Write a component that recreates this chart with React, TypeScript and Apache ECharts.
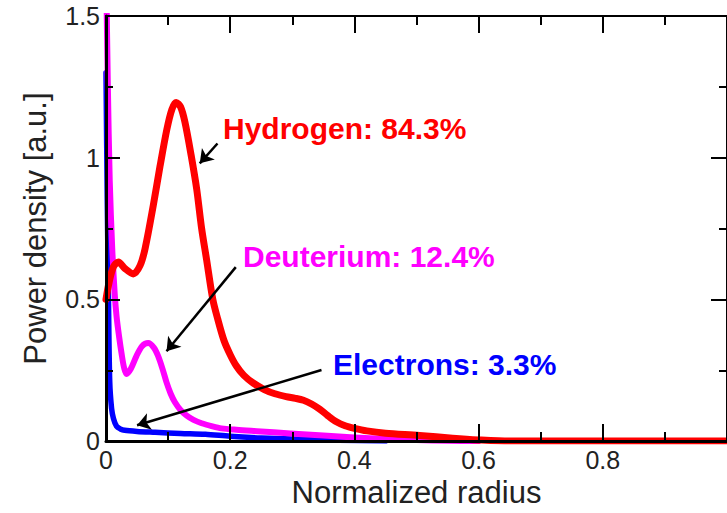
import React, { useEffect, useRef } from "react";
import * as echarts from "echarts";

// Normalized radius vs power density [a.u.]
const hydrogen: [number, number][] = [
  [0, 0.5], [0.005, 0.56], [0.012, 0.615], [0.02, 0.632], [0.03, 0.61], [0.044, 0.59],
  [0.055, 0.62], [0.063, 0.68], [0.076, 0.83], [0.087, 0.97], [0.098, 1.1], [0.106, 1.17],
  [0.113, 1.195], [0.12, 1.18], [0.127, 1.127], [0.137, 1.01], [0.146, 0.89], [0.154, 0.75],
  [0.162, 0.64], [0.172, 0.5], [0.18, 0.43], [0.19, 0.355], [0.2, 0.305], [0.21, 0.265],
  [0.222, 0.232], [0.237, 0.205], [0.255, 0.182], [0.272, 0.167], [0.29, 0.157], [0.305, 0.151],
  [0.318, 0.144], [0.331, 0.131], [0.344, 0.113], [0.357, 0.09], [0.371, 0.068], [0.385, 0.054],
  [0.4, 0.045], [0.42, 0.036], [0.45, 0.028], [0.505, 0.02], [0.558, 0.01], [0.6, 0.004],
  [0.65, 0], [0.8, 0], [1.0, 0],
];

const deuterium: [number, number][] = [
  [0, 1.7], [0.003, 1.25], [0.006, 0.92], [0.01, 0.68], [0.014, 0.52], [0.017, 0.44],
  [0.021, 0.37], [0.025, 0.31], [0.029, 0.26], [0.033, 0.237], [0.04, 0.255], [0.049, 0.3],
  [0.058, 0.335], [0.068, 0.346], [0.077, 0.33], [0.084, 0.3], [0.091, 0.255], [0.0975, 0.207],
  [0.104, 0.168], [0.111, 0.137], [0.12, 0.11], [0.13, 0.09], [0.141, 0.075], [0.154, 0.063],
  [0.17, 0.053], [0.186, 0.045], [0.21, 0.04], [0.243, 0.035], [0.297, 0.027], [0.35, 0.02],
  [0.4, 0.013], [0.45, 0.008], [0.5, 0.004], [0.55, 0.001], [0.6, 0],
];

const electrons: [number, number][] = [
  [0, 1.3], [0.002, 0.85], [0.004, 0.5], [0.006, 0.21], [0.009, 0.115], [0.012, 0.08],
  [0.017, 0.052], [0.023, 0.043], [0.03, 0.038], [0.05, 0.034], [0.079, 0.031], [0.12, 0.027],
  [0.16, 0.024], [0.2, 0.017], [0.25, 0.011], [0.3, 0.007], [0.35, 0.004], [0.4, 0.002],
  [0.45, 0],
];

const seriesNames = ["Electrons", "Deuterium", "Hydrogen"];
const annotationTexts = ["Hydrogen: 84.3%", "Deuterium: 12.4%", "Electrons: 3.3%"];

// arrows: [start, tip] in data coordinates
const arrows: [[number, number], [number, number]][] = [
  [[0.1795, 1.05], [0.151, 0.98]],
  [[0.209, 0.614], [0.0975, 0.317]],
  [[0.347, 0.251], [0.05, 0.056]],
];

const FONT = "'Liberation Sans', Arial, Helvetica, sans-serif";

export default function App() {
  const ref = useRef<HTMLDivElement>(null);
  useEffect(() => {
    if (!ref.current) return;
    const chart = echarts.init(ref.current, undefined, { renderer: "svg" });
    const tickStyle = { color: "#000", width: 2 };
    chart.setOption({
      animation: false,
      backgroundColor: "#fff",
      grid: { left: 106, top: 16, right: -1, bottom: 67, containLabel: false },
      xAxis: [
        {
          type: "value",
          position: "bottom",
          min: 0,
          max: 1,
          interval: 0.2,
          z: 10,
          axisLine: { show: true, onZero: false, lineStyle: { color: "#000", width: 3 } },
          axisTick: { show: true, inside: true, length: 17, lineStyle: tickStyle },
          minorTick: { show: true, splitNumber: 2, length: 9, lineStyle: tickStyle },
          splitLine: { show: false },
          axisLabel: {
            fontSize: 25,
            color: "#222",
            margin: 6,
            fontFamily: FONT,
            showMaxLabel: false,
          },
          name: "Normalized radius",
          nameLocation: "middle",
          nameGap: 28,
          nameTextStyle: { fontSize: 31, color: "#222", fontFamily: FONT },
        },
        {
          type: "value",
          position: "top",
          min: 0,
          max: 1,
          interval: 0.2,
          z: 10,
          axisLine: { show: true, onZero: false, lineStyle: { color: "#000", width: 2 } },
          axisTick: { show: true, inside: true, length: 17, lineStyle: tickStyle },
          minorTick: { show: true, splitNumber: 2, length: 9, lineStyle: tickStyle },
          splitLine: { show: false },
          axisLabel: { show: false },
        },
      ],
      yAxis: [
        {
          type: "value",
          position: "left",
          min: 0,
          max: 1.5,
          interval: 0.5,
          z: 10,
          axisLine: { show: true, onZero: false, lineStyle: { color: "#000", width: 3 } },
          axisTick: { show: true, inside: true, length: 14, lineStyle: tickStyle },
          minorTick: { show: true, splitNumber: 2, length: 7, lineStyle: tickStyle },
          splitLine: { show: false },
          axisLabel: { fontSize: 25, color: "#222", margin: 6, fontFamily: FONT },
          name: "Power density [a.u.]",
          nameLocation: "middle",
          nameGap: 55,
          nameTextStyle: { fontSize: 31, color: "#222", fontFamily: FONT },
        },
        {
          type: "value",
          position: "right",
          min: 0,
          max: 1.5,
          interval: 0.5,
          z: 10,
          axisLine: { show: true, onZero: false, lineStyle: { color: "#000", width: 2 } },
          axisTick: { show: true, inside: true, length: 16, lineStyle: tickStyle },
          minorTick: { show: true, splitNumber: 2, length: 8, lineStyle: tickStyle },
          splitLine: { show: false },
          axisLabel: { show: false },
        },
      ],
      series: [
        {
          name: seriesNames[0],
          type: "line",
          data: electrons,
          showSymbol: false,
          smooth: 0.3,
          lineStyle: { color: "#0000ff", width: 5.5, join: "round", cap: "round" },
          z: 2,
        },
        {
          name: seriesNames[1],
          type: "line",
          data: deuterium,
          showSymbol: false,
          smooth: 0.3,
          lineStyle: { color: "#ff00ff", width: 6, join: "round", cap: "round" },
          z: 3,
        },
        {
          name: seriesNames[2],
          type: "line",
          data: hydrogen,
          showSymbol: false,
          smooth: 0.3,
          lineStyle: { color: "#ff0000", width: 7, join: "round", cap: "round" },
          z: 4,
        },
        {
          name: "arrows",
          type: "line",
          data: [],
          z: 6,
          markLine: {
            silent: true,
            symbol: ["none", "arrow"],
            symbolSize: 13,
            label: { show: false },
            lineStyle: { color: "#000", width: 2.5, type: "solid" },
            emphasis: { disabled: true },
            data: arrows.map(([s, e]) => [{ coord: s }, { coord: e }]),
          },
        },
      ],
      graphic: [
        {
          type: "text",
          x: 223,
          y: 128,
          z: 20,
          style: {
            text: annotationTexts[0],
            fill: "#ff0000",
            font: `bold 30px ${FONT}`,
            verticalAlign: "middle",
          },
        },
        {
          type: "text",
          x: 243,
          y: 256,
          z: 20,
          style: {
            text: annotationTexts[1],
            fill: "#ff00ff",
            font: `bold 30px ${FONT}`,
            verticalAlign: "middle",
          },
        },
        {
          type: "text",
          x: 333,
          y: 364,
          z: 20,
          style: {
            text: annotationTexts[2],
            fill: "#0000ff",
            font: `bold 30px ${FONT}`,
            verticalAlign: "middle",
          },
        },
      ],
    });
    return () => chart.dispose();
  }, []);
  return (
    <div
      ref={ref}
      style={{ position: "fixed", left: 0, top: 0, width: 727, height: 513, background: "#fff" }}
    />
  );
}
